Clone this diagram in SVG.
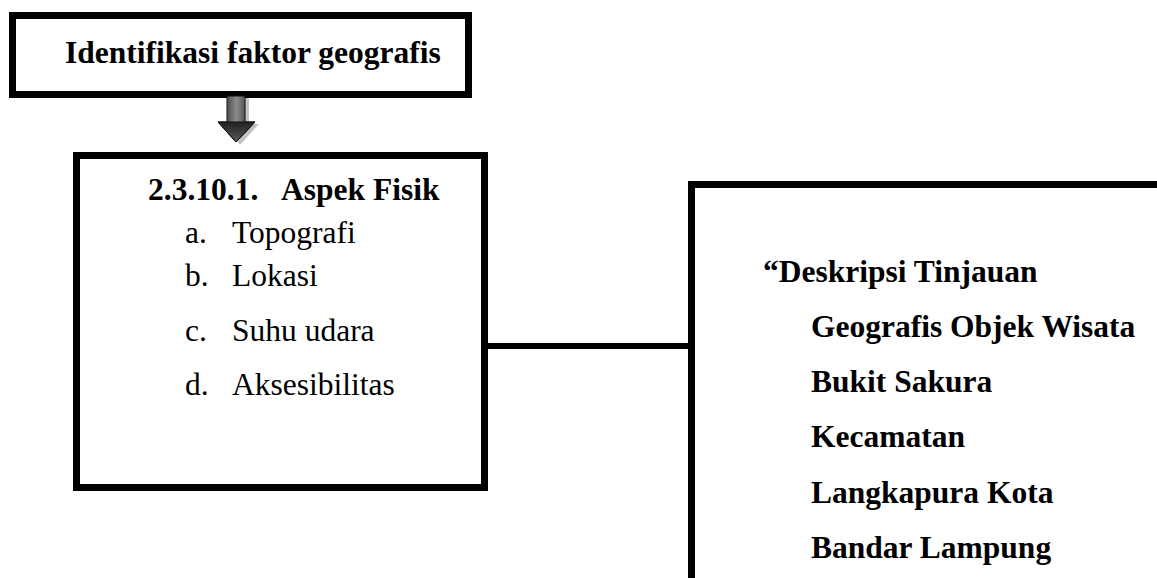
<svg xmlns="http://www.w3.org/2000/svg" width="1157" height="578" viewBox="0 0 1157 578">
  <style>
    .box { fill: #ffffff; stroke: #000000; stroke-width: 7; }
    .t { font-family: "Liberation Serif", "Times New Roman", serif; font-size: 31.5px; fill: #000000; }
    .b { font-weight: bold; }
    .conn { stroke: #000000; stroke-width: 6; fill: none; }
  </style>
  <defs>
    <linearGradient id="shaft" x1="0" y1="0" x2="1" y2="0">
      <stop offset="0" stop-color="#1a1a1a"/>
      <stop offset="0.5" stop-color="#8a8a8a"/>
      <stop offset="1" stop-color="#1a1a1a"/>
    </linearGradient>
    <linearGradient id="head" x1="0" y1="0" x2="0" y2="1">
      <stop offset="0" stop-color="#202020"/>
      <stop offset="1" stop-color="#5a5a5a"/>
    </linearGradient>
  </defs>

  <g id="connectors">
    <line class="conn" x1="485" y1="346" x2="692" y2="346"/>
  </g>

  <g id="node-identifikasi">
    <rect class="box" x="12.5" y="15.5" width="456" height="79"/>
    <text class="t b" x="65" y="63">Identifikasi faktor geografis</text>
  </g>

  <g id="arrow-down">
    <path d="M231 98 H249 V124 H259 L240 145 L221 124 H231 Z" fill="#9a9a9a" opacity="0.6"/>
    <path d="M227 96 H245 V122 H255 L236 142 L218 122 H227 Z" fill="url(#shaft)" stroke="#111" stroke-width="1"/>
    <path d="M218 122 H255 L236 142 Z" fill="url(#head)" stroke="#111" stroke-width="1"/>
  </g>

  <g id="node-aspek-fisik">
    <rect class="box" x="76.5" y="155.5" width="408" height="332"/>
    <text class="t b" x="148" y="200">2.3.10.1.</text>
    <text class="t b" x="281" y="200">Aspek Fisik</text>
    <text class="t" x="185" y="243">a.</text>
    <text class="t" x="232" y="243">Topografi</text>
    <text class="t" x="185" y="286">b.</text>
    <text class="t" x="232" y="286">Lokasi</text>
    <text class="t" x="185" y="341">c.</text>
    <text class="t" x="232" y="341">Suhu udara</text>
    <text class="t" x="185" y="395">d.</text>
    <text class="t" x="232" y="395">Aksesibilitas</text>
  </g>

  <g id="node-deskripsi">
    <rect class="box" x="691.5" y="184.5" width="520" height="450"/>
    <text class="t b" x="763" y="282">“Deskripsi Tinjauan</text>
    <text class="t b" x="811" y="337">Geografis Objek Wisata</text>
    <text class="t b" x="811" y="392">Bukit Sakura</text>
    <text class="t b" x="811" y="447">Kecamatan</text>
    <text class="t b" x="811" y="503">Langkapura Kota</text>
    <text class="t b" x="811" y="558">Bandar Lampung</text>
  </g>
</svg>
